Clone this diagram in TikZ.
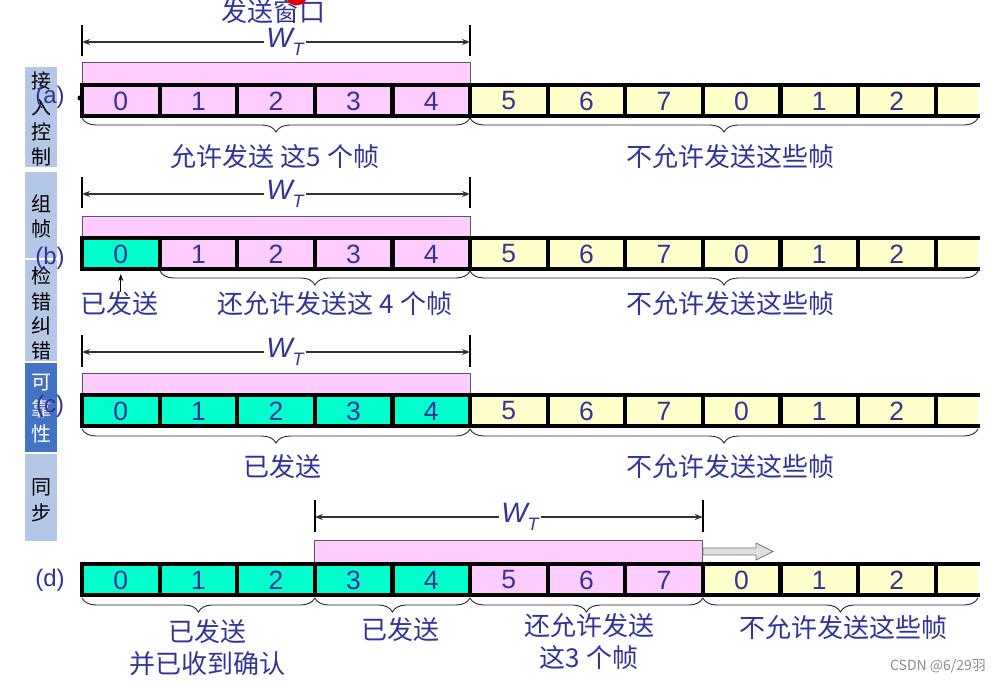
\documentclass[tikz,border=0pt]{standalone}
\usepackage{fontspec}
\setmainfont{Liberation Sans}
\newfontfamily\cjk{Noto Sans CJK SC}
\usetikzlibrary{decorations.pathreplacing,arrows.meta}
\definecolor{txtblue}{HTML}{333399}
\definecolor{winpink}{HTML}{FFCCFF}
\definecolor{frmyellow}{HTML}{FFFFCC}
\definecolor{sentgreen}{HTML}{00FFCC}
\definecolor{sidelight}{HTML}{B4C7E7}
\definecolor{sidedark}{HTML}{4472C4}
\definecolor{arrowgray}{HTML}{E0E0E0}
\newcommand\cellrow[3]{%
  \foreach \i/\n/\c in {#3} {
    \fill[\c] ({82+77.6*\i},#1) rectangle ({82+77.6*(\i+1)},#1+31);
    \node[num] (#2\i) at ({82+77.6*(\i+0.5)},#1+16) {\n};
  }
  \fill[frmyellow] (935.6,#1) rectangle (978,#1+31);
  \draw[frame] (82,#1) -- (978,#1) (82,#1+31) -- (978,#1+31);
  \foreach \k in {0,...,11} \draw[frame] ({82+77.6*\k},#1) -- ({82+77.6*\k},#1+31);
}
\begin{document}
\begin{tikzpicture}[x=1pt,y=-1pt,
  num/.style={font=\fontsize{26.5}{29}\selectfont, text=txtblue, inner sep=0pt},
  frame/.style={line width=4.2pt, line cap=rect, black},
  winbar/.style={fill=winpink, draw=black!65, line width=0.9pt},
  tick/.style={line width=2pt, black},
  wline/.style={line width=1.2pt, black!80, {Stealth[length=8pt,width=6pt]}-{Stealth[length=8pt,width=6pt]}},
  wlabel/.style={fill=white, inner sep=2pt, text=txtblue, font=\fontsize{28}{30}\selectfont\itshape},
  cn/.style={font=\cjk\fontsize{26}{32}\selectfont, text=txtblue, inner sep=0pt, align=center},
  side/.style={font=\cjk\fontsize{20}{24}\selectfont, inner sep=0pt},
  rowlab/.style={font=\fontsize{24}{28}\selectfont, text=txtblue, inner sep=0pt},
  brc/.style={decorate, decoration={brace, amplitude=14pt}, line width=0.9pt, black!85},
  hollow/.style={fill=arrowgray, draw=black!55, line width=0.8pt}
]
\useasboundingbox (0,0) rectangle (1002,684);

% sidebar
\fill[sidelight] (25,67) rectangle (57,167);
\fill[sidelight] (25,172) rectangle (57,258);
\fill[sidelight] (25,260) rectangle (57,361);
\fill[sidedark] (25,363) rectangle (57,452);
\fill[sidelight] (25,454) rectangle (57,541);
\foreach \ch/\yy [count=\j] in {接/81,入/107,控/132,制/157,组/204,帧/229,检/276,错/302,纠/326,错/351,同/487,步/513}
  \node[side] (s\j) at (41,\yy) {\ch};
\foreach \ch/\yy [count=\j] in {可/383,靠/409,性/434}
  \node[side, text=white] (t\j) at (41,\yy) {\ch};

% top title
\node[cn] (title) at (273,12) {发送窗口};
\fill[red!90!black] (287,0) .. controls (290,7) and (303,7) .. (306,0) -- cycle;

% ---------- row (a)
\draw[tick] (82,25) -- (82,56) (470,25) -- (470,56);
\coordinate (aL) at (82,42); \coordinate (aR) at (470,42);
\draw[wline] (aL) -- (aR);
\node[wlabel] (wa) at (285,42) {W\raisebox{-0.5ex}{\fontsize{18}{20}\selectfont T}};
\filldraw[winbar] (82,62) rectangle (470,85);
\cellrow{85}{a}{0/0/winpink,1/1/winpink,2/2/winpink,3/3/winpink,4/4/winpink,5/5/frmyellow,6/6/frmyellow,7/7/frmyellow,8/0/frmyellow,9/1/frmyellow,10/2/frmyellow}
\fill[black] (80,98) circle (2.5);
\node[rowlab] (la) at (50,97) {(a)};
\draw[brc] (470,118) -- (82,118);
\draw[brc] (978,118) -- (470,118);
\node[cn] (ta1) at (275,157) {允许发送 这5 个帧};
\node[cn] (ta2) at (730,157) {不允许发送这些帧};

% ---------- row (b)
\draw[tick] (82,177) -- (82,208) (470,177) -- (470,208);
\coordinate (bL) at (82,194); \coordinate (bR) at (470,194);
\draw[wline] (bL) -- (bR);
\node[wlabel] (wb) at (285,194) {W\raisebox{-0.5ex}{\fontsize{18}{20}\selectfont T}};
\filldraw[winbar] (82,216) rectangle (470,238);
\cellrow{238}{b}{0/0/sentgreen,1/1/winpink,2/2/winpink,3/3/winpink,4/4/winpink,5/5/frmyellow,6/6/frmyellow,7/7/frmyellow,8/0/frmyellow,9/1/frmyellow,10/2/frmyellow}
\node[rowlab] (lb) at (50,258) {(b)};
\node[cn] (tb0) at (119,304) {已发送};
\draw[line width=0.9pt, black, -{Stealth[length=7pt,width=5pt]}] (tb0.north -| b0) -- ([yshift=-3pt]b0.south |- 0,271);
\draw[brc] (470,271) -- (160,271);
\draw[brc] (978,271) -- (470,271);
\node[cn] (tb1) at (335,304) {还允许发送这 4 个帧};
\node[cn] (tb2) at (730,304) {不允许发送这些帧};

% ---------- row (c)
\draw[tick] (82,335) -- (82,367) (470,335) -- (470,367);
\coordinate (cL) at (82,352); \coordinate (cR) at (470,352);
\draw[wline] (cL) -- (cR);
\node[wlabel] (wc) at (285,352) {W\raisebox{-0.5ex}{\fontsize{18}{20}\selectfont T}};
\filldraw[winbar] (82,373) rectangle (470,395);
\cellrow{395}{c}{0/0/sentgreen,1/1/sentgreen,2/2/sentgreen,3/3/sentgreen,4/4/sentgreen,5/5/frmyellow,6/6/frmyellow,7/7/frmyellow,8/0/frmyellow,9/1/frmyellow,10/2/frmyellow}
\node[rowlab] (lc) at (50,406) {(c)};
\draw[brc] (470,429) -- (82,429);
\draw[brc] (978,429) -- (470,429);
\node[cn] (tc1) at (282,467) {已发送};
\node[cn] (tc2) at (730,467) {不允许发送这些帧};

% ---------- row (d)
\draw[tick] (314.8,500) -- (314.8,532) (702.8,500) -- (702.8,532);
\coordinate (dL) at (314.8,517); \coordinate (dR) at (702.8,517);
\draw[wline] (dL) -- (dR);
\node[wlabel] (wd) at (520,517) {W\raisebox{-0.5ex}{\fontsize{18}{20}\selectfont T}};
\filldraw[winbar] (314.8,540) rectangle (702.8,564);
\draw[hollow] (703,548) -- (756,548) -- (756,543) -- (773,551.5) -- (756,560) -- (756,555) -- (703,555) -- cycle;
\cellrow{564}{d}{0/0/sentgreen,1/1/sentgreen,2/2/sentgreen,3/3/sentgreen,4/4/sentgreen,5/5/winpink,6/6/winpink,7/7/winpink,8/0/frmyellow,9/1/frmyellow,10/2/frmyellow}
\node[rowlab] (ld) at (50,580) {(d)};
\draw[brc] (314.8,598) -- (82,598);
\draw[brc] (470,598) -- (314.8,598);
\draw[brc] (702.8,598) -- (470,598);
\draw[brc] (978,598) -- (702.8,598);
\node[cn] (td1) at (207,648) {已发送\\并已收到确认};
\node[cn] (td2) at (400,630) {已发送};
\node[cn] (td3) at (589,642) {还允许发送\\这3 个帧};
\node[cn] (td4) at (843,628) {不允许发送这些帧};

% watermark
\node[font=\cjk\fontsize{14}{16}\selectfont, text=black!45, inner sep=0pt] (wm) at (938,666) {CSDN @6/29羽};
\end{tikzpicture}
\end{document}
